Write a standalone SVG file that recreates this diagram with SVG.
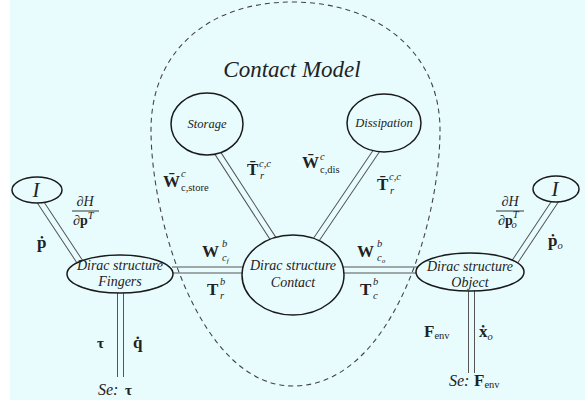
<svg xmlns="http://www.w3.org/2000/svg" width="588" height="406" viewBox="0 0 588 406">
  <style>
    .bg { fill: #e8fcfe; }
    .node { fill: #e8fcfe; stroke: #1a1a1a; stroke-width: 1.5; }
    .dl-out { stroke: #555; stroke-width: 7; fill: none; stroke-linecap: butt; }
    .dl-in { stroke: #e8fcfe; stroke-width: 5; fill: none; stroke-linecap: butt; }
    .dash { fill: none; stroke: #444; stroke-width: 1.1; stroke-dasharray: 5 4; }
    text { font-family: 'Liberation Serif', 'DejaVu Serif', serif; fill: #222; }
    .lbl { font-style: italic; font-size: 14px; text-anchor: middle; }
    .small { font-size: 12.5px; }
    .big { font-size: 21px; }
    .se { font-style: italic; font-size: 16px; }
    .title { font-style: italic; font-size: 23px; text-anchor: middle; }
    .m { font-weight: bold; font-size: 17px; }
    .tau { font-weight: bold; font-size: 15px; }
    .s { font-weight: normal; font-style: normal; font-size: 10.5px; }
    .si { font-weight: normal; font-style: italic; font-size: 10.5px; }
    .ss { font-size: 7px; }
    .f { font-size: 14px; }
    .bar { stroke: #222; stroke-width: 0.9; }
  </style>
  <rect class="bg" x="10" y="0" width="575" height="400"/>

  <g id="connectors">
    <path class="dl-out" d="M39,200 L80,262 M120.5,292 L120.5,377 M172,270 L244,270 M217,152 L274,240 M377,150 L316,240 M343,270 L418,270 M556,200 L512,266 M471.5,290 L471.5,373"/>
    <path class="dl-in" d="M39,200 L80,262 M120.5,292 L120.5,377 M172,270 L244,270 M217,152 L274,240 M377,150 L316,240 M343,270 L418,270 M556,200 L512,266 M471.5,290 L471.5,373"/>
  </g>

  <g id="contact-model-boundary">
    <path class="dash" d="M292,2 C375,2 440,50 440,130 C440,220 393,386 293,386 C200,386 151,220 151,130 C151,50 210,2 292,2 Z"/>
    <text class="title" x="292" y="77">Contact Model</text>
  </g>

  <g id="I-fingers">
    <ellipse class="node" cx="37" cy="190" rx="25" ry="13"/>
    <text class="lbl big" x="36" y="197">I</text>
  </g>
  <g id="fingers">
    <ellipse class="node" cx="120" cy="274" rx="53" ry="19"/>
    <text class="lbl" x="120" y="270">Dirac structure</text>
    <text class="lbl" x="120" y="286">Fingers</text>
  </g>
  <g id="storage">
    <ellipse class="node" cx="207" cy="124" rx="36" ry="31"/>
    <text class="lbl small" x="207" y="128">Storage</text>
  </g>
  <g id="dissipation">
    <ellipse class="node" cx="384" cy="123" rx="37" ry="29"/>
    <text class="lbl small" x="384" y="127">Dissipation</text>
  </g>
  <g id="contact">
    <ellipse class="node" cx="293" cy="275" rx="51" ry="40"/>
    <text class="lbl" x="293" y="270">Dirac structure</text>
    <text class="lbl" x="293" y="287">Contact</text>
  </g>
  <g id="object">
    <ellipse class="node" cx="470" cy="272" rx="54" ry="19"/>
    <text class="lbl" x="470" y="271">Dirac structure</text>
    <text class="lbl" x="470" y="287">Object</text>
  </g>
  <g id="I-object">
    <ellipse class="node" cx="556" cy="189" rx="23" ry="13"/>
    <text class="lbl big" x="555" y="196">I</text>
  </g>
  <g id="se-tau">
    <text class="se" x="98" y="395">Se:</text>
    <text class="tau" x="125" y="395">τ</text>
  </g>
  <g id="se-fenv">
    <text class="se" x="449" y="386">Se:</text>
    <text class="m" x="474" y="386">F<tspan class="s" dy="2">env</tspan></text>
  </g>

  <g id="labels">
    <text class="m" x="37" y="248">ṗ</text>
    <text class="f" x="85" y="206" text-anchor="middle">∂<tspan font-style="italic">H</tspan></text>
    <line class="bar" x1="72" y1="211" x2="99" y2="211"/>
    <text class="f" x="73" y="225">∂<tspan font-weight="bold">p</tspan><tspan class="si" dy="-6">T</tspan></text>

    <text class="tau" x="97" y="348">τ</text>
    <text class="m" x="133" y="348">q̇</text>

    <text class="m" x="163" y="187">W̄<tspan class="si" x="181" y="177">c</tspan><tspan class="s" x="181" y="191">c,store</tspan></text>
    <text class="m" x="247" y="175">T̄<tspan class="si" x="259" y="167">c,c</tspan><tspan class="si" x="260" y="179">r</tspan></text>

    <text class="m" x="302" y="168">W̄<tspan class="si" x="320" y="160">c</tspan><tspan class="s" x="320" y="173">c,dis</tspan></text>
    <text class="m" x="377" y="190">T̄<tspan class="si" x="389" y="180">c,c</tspan><tspan class="si" x="390" y="194">r</tspan></text>

    <text class="m" x="202" y="257">W<tspan class="si" x="222" y="247">b</tspan><tspan class="si" x="222" y="261">c<tspan class="ss" dy="2">f</tspan></tspan></text>
    <text class="m" x="207" y="295">T<tspan class="si" x="220" y="285">b</tspan><tspan class="si" x="220" y="299">r</tspan></text>

    <text class="m" x="357" y="257">W<tspan class="si" x="377" y="247">b</tspan><tspan class="si" x="377" y="261">c<tspan class="ss" dy="2">o</tspan></tspan></text>
    <text class="m" x="360" y="295">T<tspan class="si" x="373" y="285">b</tspan><tspan class="si" x="373" y="299">c</tspan></text>

    <text class="m" x="424" y="337">F<tspan class="s" dy="2">env</tspan></text>
    <text class="m" x="479" y="337">ẋ<tspan class="si" dy="3">o</tspan></text>

    <text class="f" x="510" y="206" text-anchor="middle">∂<tspan font-style="italic">H</tspan></text>
    <line class="bar" x1="496" y1="211" x2="524" y2="211"/>
    <text class="f" x="498" y="225">∂<tspan font-weight="bold">p</tspan><tspan class="si" dy="-7">T</tspan><tspan class="si" dx="-6" dy="10">o</tspan></text>
    <text class="m" x="548" y="246">ṗ<tspan class="si" dy="3">o</tspan></text>
  </g>
</svg>
